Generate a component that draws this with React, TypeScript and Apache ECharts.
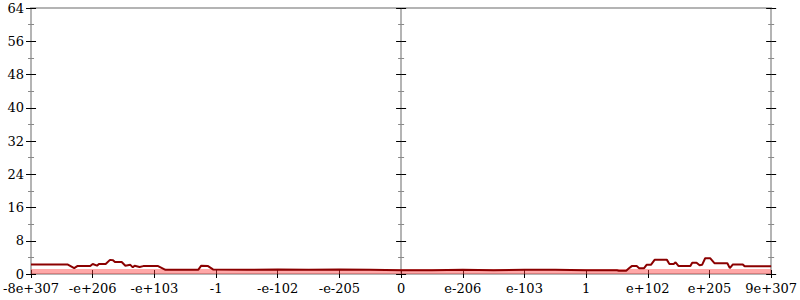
import React, { useEffect, useRef } from "react";
import * as echarts from "echarts";

const xTickLabels = [
  "-8e+307", "-e+206", "-e+103", "-1", "-e-102", "-e-205", "0",
  "e-206", "e-103", "1", "e+102", "e+205", "9e+307",
];

// x positions in axis units (-6..6), counts on y
const lineX = [
  -6, -5.41, -5.3, -5.25, -5.04, -5.0, -4.93, -4.9, -4.79, -4.72, -4.67, -4.64, -4.53, -4.47,
  -4.39, -4.35, -4.32, -4.24, -4.18, -3.94, -3.82, -3.29, -3.24, -3.13, -3.05,
  -2.5, -2, -1.5, -1, -0.5, 0, 0.5, 1, 1.5, 2, 2.5, 3, 3.5,
  3.53, 3.65, 3.69, 3.74, 3.82, 3.86, 3.94, 3.98, 4.05, 4.11, 4.31, 4.35, 4.42, 4.45, 4.5,
  4.69, 4.72, 4.79, 4.84, 4.88, 4.93, 5.01, 5.08, 5.29, 5.33, 5.38, 5.54, 5.57, 6,
];
const lineY = [
  2.3, 2.3, 1.4, 1.9, 1.9, 2.4, 2.0, 2.4, 2.4, 3.4, 3.3, 2.9, 2.9, 2.0,
  2.2, 1.6, 2.0, 1.7, 1.9, 1.9, 1.0, 1.0, 2.0, 1.9, 1.1,
  1.0, 1.1, 1.0, 1.1, 1.0, 0.9, 0.9, 1.0, 0.9, 1.0, 1.0, 0.9, 0.9,
  0.8, 0.8, 1.3, 1.9, 1.9, 1.4, 1.4, 2.2, 2.2, 3.4, 3.4, 2.4, 2.4, 2.8, 1.9,
  1.9, 2.7, 2.7, 2.1, 2.2, 3.8, 3.8, 2.6, 2.6, 1.4, 2.3, 2.3, 1.85, 1.85,
];
const bandX = [-6, 6];
const bandY = [0.6, 0.6];

const AXIS_GRAY = "#b4b4b4";
const FONT = "DejaVu Serif";

export default function App() {
  const ref = useRef<HTMLDivElement>(null);
  useEffect(() => {
    if (!ref.current) return;
    const chart = echarts.init(ref.current, undefined, { renderer: "svg" });
    const xBase = {
      type: "value" as const,
      min: -6,
      max: 6,
      interval: 1,
      splitLine: { show: false },
    };
    const yBase = {
      type: "value" as const,
      min: 0,
      max: 64,
      interval: 8,
      splitLine: { show: false },
      minorSplitLine: { show: false },
    };
    const tick = (inside: boolean, len: number) => ({
      show: true,
      inside,
      length: len,
      lineStyle: { color: "#000", width: 1 },
    });
    const minor = (len: number) => ({
      show: true,
      splitNumber: 2,
      length: len,
      lineStyle: { color: "#888", width: 1 },
    });
    chart.setOption({
      animation: false,
      backgroundColor: "#fff",
      textStyle: { fontFamily: FONT },
      grid: { left: 27, right: 26, top: 8, bottom: 26, containLabel: false },
      xAxis: [
        {
          ...xBase,
          position: "bottom",
          axisLine: { show: true, onZero: false, lineStyle: { color: AXIS_GRAY, width: 2 } },
          axisTick: tick(false, 4),
          axisLabel: {
            show: true,
            color: "#000",
            fontFamily: FONT,
            fontSize: 13,
            margin: 8,
            formatter: (v: number) => xTickLabels[Math.round(v) + 6] ?? "",
          },
        },
        {
          ...xBase,
          position: "bottom",
          axisLine: { show: false, onZero: false },
          axisTick: tick(true, 4),
          axisLabel: { show: false },
        },
        {
          ...xBase,
          position: "top",
          axisLine: { show: true, onZero: false, lineStyle: { color: AXIS_GRAY, width: 2 } },
          axisTick: { show: false },
          axisLabel: { show: false },
        },
      ],
      yAxis: [
        {
          ...yBase,
          position: "left",
          axisLine: { show: true, onZero: false, lineStyle: { color: AXIS_GRAY, width: 2 } },
          axisTick: tick(false, 5),
          minorTick: minor(3),
          axisLabel: { show: true, color: "#000", fontFamily: FONT, fontSize: 13, margin: 7 },
        },
        {
          ...yBase,
          position: "left",
          axisLine: { show: false, onZero: false },
          axisTick: tick(true, 5),
          minorTick: minor(3),
          axisLabel: { show: false },
        },
        {
          ...yBase,
          position: "right",
          axisLine: { show: true, onZero: false, lineStyle: { color: AXIS_GRAY, width: 2 } },
          axisTick: tick(false, 5),
          minorTick: minor(3),
          axisLabel: { show: false },
        },
        {
          ...yBase,
          position: "right",
          axisLine: { show: false, onZero: false },
          axisTick: tick(true, 5),
          minorTick: minor(3),
          axisLabel: { show: false },
        },
        {
          ...yBase,
          position: "left",
          axisLine: { show: true, onZero: true, onZeroAxisIndex: 0, lineStyle: { color: AXIS_GRAY, width: 2 } },
          axisTick: tick(false, 5),
          minorTick: minor(3),
          axisLabel: { show: false },
        },
        {
          ...yBase,
          position: "left",
          axisLine: { show: false, onZero: true, onZeroAxisIndex: 0 },
          axisTick: tick(true, 5),
          minorTick: minor(3),
          axisLabel: { show: false },
        },
      ],
      series: [
        {
          type: "line",
          xAxisIndex: 0,
          yAxisIndex: 0,
          data: bandX.map((x, i) => [x, bandY[i]]),
          showSymbol: false,
          lineStyle: { color: "rgba(255,60,60,0.45)", width: 5 },
          z: 1,
        },
        {
          type: "line",
          xAxisIndex: 0,
          yAxisIndex: 0,
          data: lineX.map((x, i) => [x, lineY[i]]),
          showSymbol: false,
          lineStyle: { color: "#8b0000", width: 2 },
          z: 3,
        },
      ],
    });
    return () => chart.dispose();
  }, []);
  return <div ref={ref} style={{ width: 800, height: 300, position: "absolute", left: 0, top: 0 }} />;
}
